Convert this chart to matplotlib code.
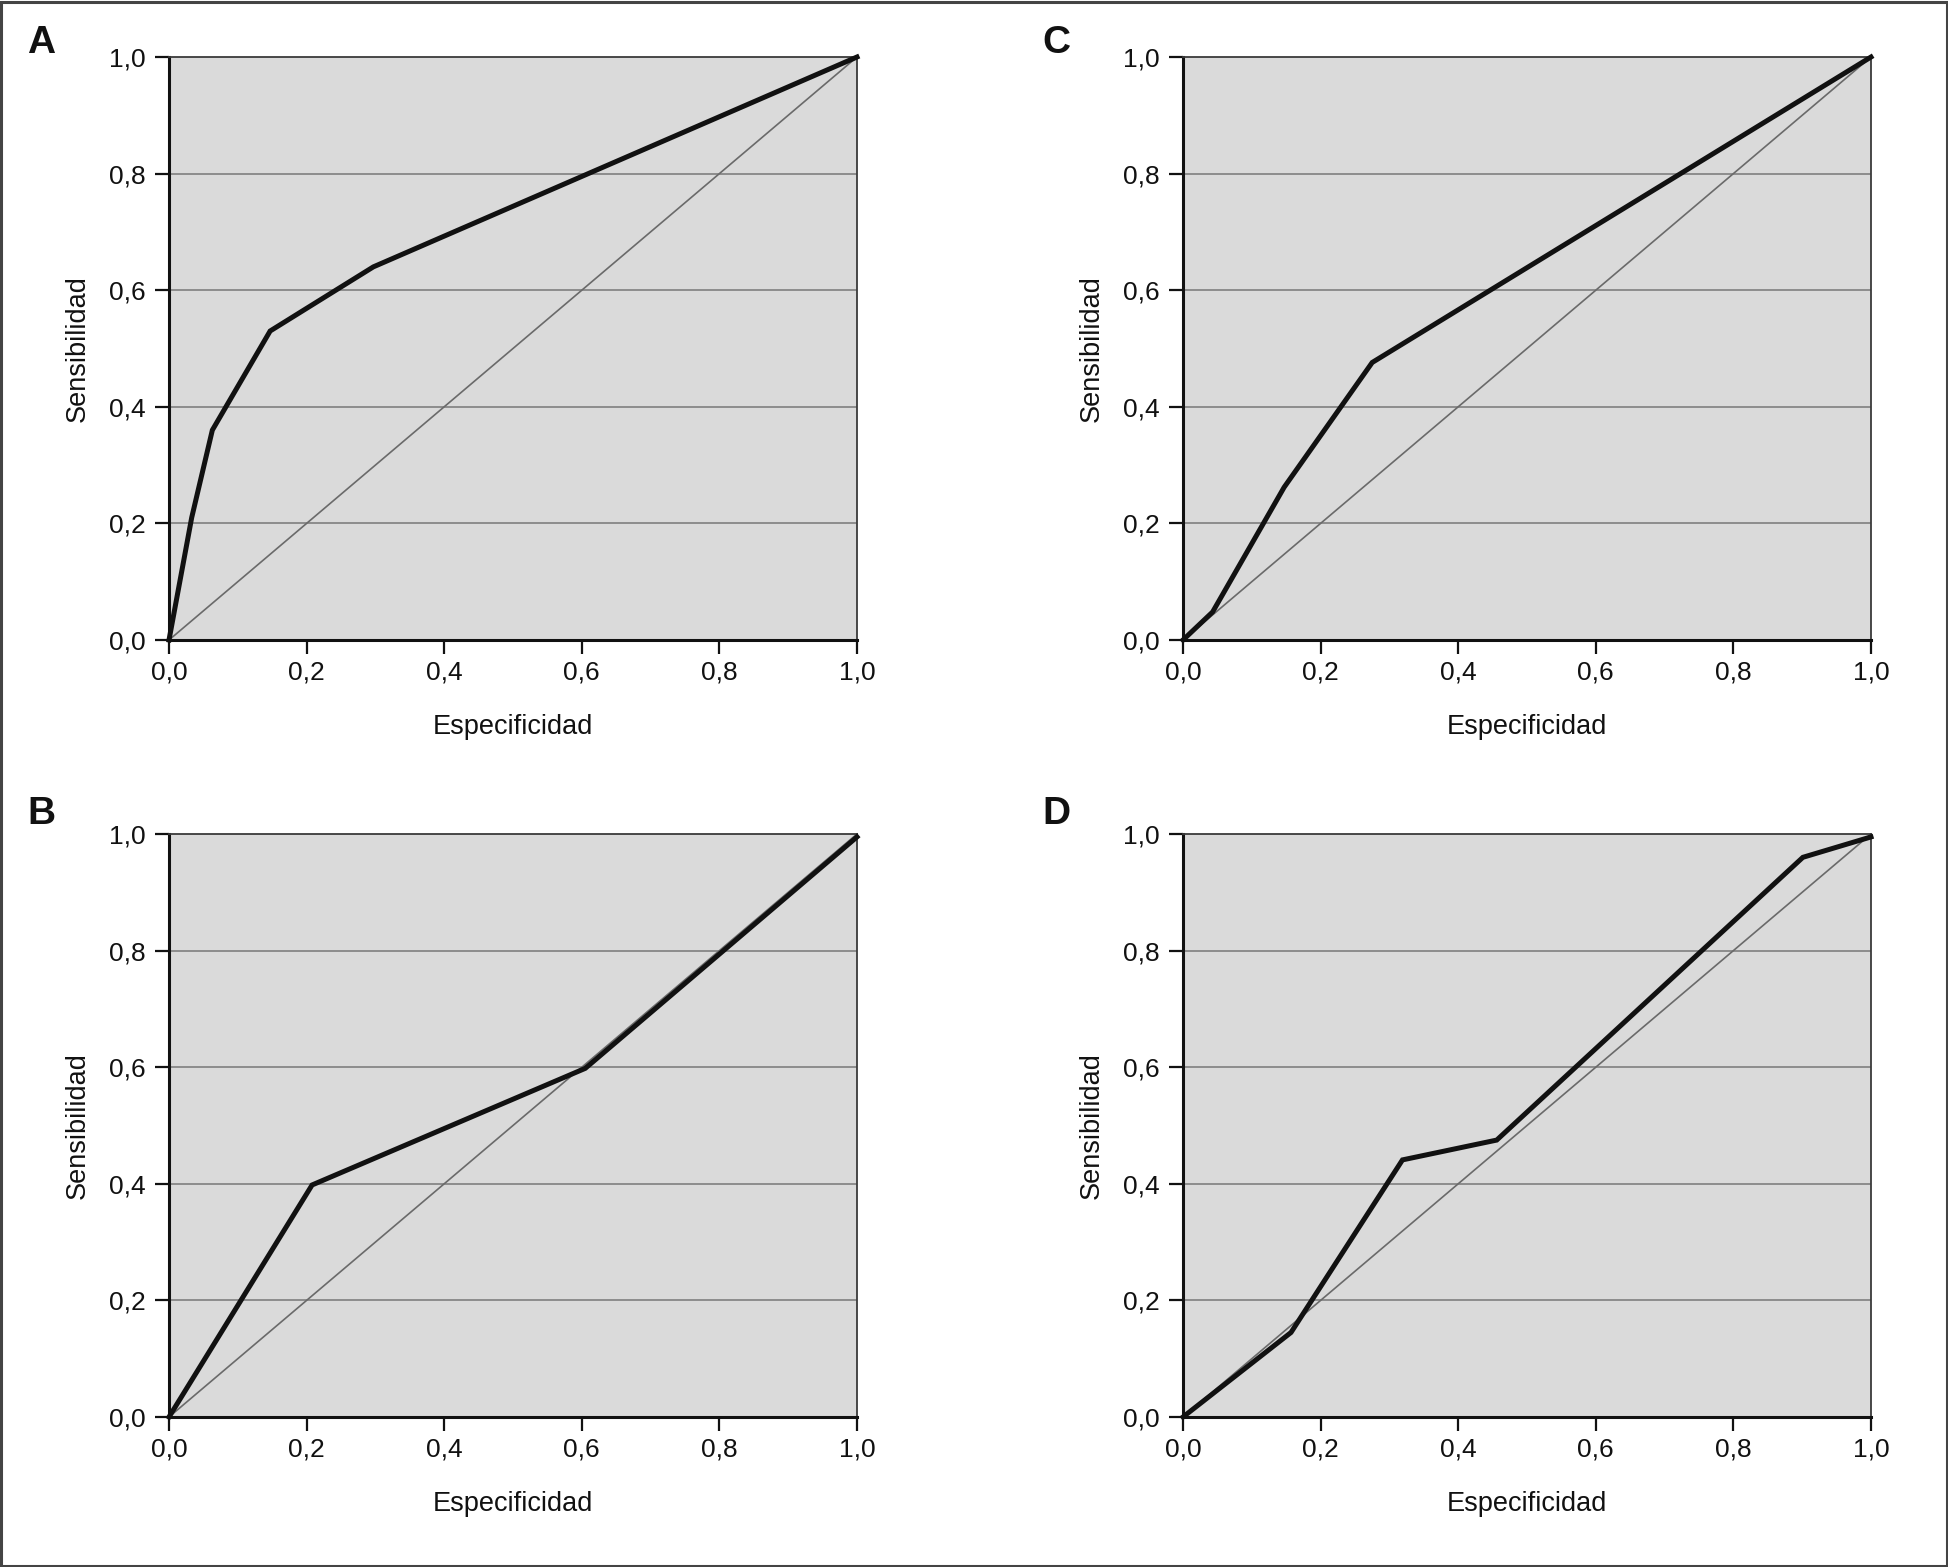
#!/usr/bin/env python3
from __future__ import annotations

import matplotlib

matplotlib.use("Agg")
import matplotlib.pyplot as plt
from matplotlib.patches import Rectangle

# ROC curves (x = 1 - especificidad, y = sensibilidad)
panel_letters = ["A", "B", "C", "D"]

a_fpr = [0.0, 0.033, 0.063, 0.147, 0.297, 1.0]
a_tpr = [0.0, 0.21, 0.36, 0.53, 0.64, 1.0]

b_fpr = [0.0, 0.208, 0.605, 1.0]
b_tpr = [0.0, 0.398, 0.598, 0.995]

c_fpr = [0.0, 0.043, 0.147, 0.275, 1.0]
c_tpr = [0.0, 0.048, 0.262, 0.476, 1.0]

d_fpr = [0.0, 0.157, 0.319, 0.456, 0.901, 1.0]
d_tpr = [0.0, 0.145, 0.441, 0.475, 0.960, 0.995]

tick_values = [0.0, 0.2, 0.4, 0.6, 0.8, 1.0]
tick_labels = ["0,0", "0,2", "0,4", "0,6", "0,8", "1,0"]
grid_values = [0.2, 0.4, 0.6, 0.8]

x_label = "Especificidad"
y_label = "Sensibilidad"


def _draw_panel(ax, fpr: list[float], tpr: list[float]) -> None:
    ax.set_facecolor("#dadada")
    ax.set_xlim(0, 1)
    ax.set_ylim(0, 1)

    for g in grid_values:
        ax.axhline(g, color="#8c8c8c", lw=1.4, zorder=1)

    # chance diagonal
    ax.plot([0, 1], [0, 1], color="#6a6a6a", lw=1.2, zorder=2, clip_on=False)
    ax.plot(fpr, tpr, color="#111111", lw=3.6, zorder=3, clip_on=False,
            solid_joinstyle="miter")

    ax.set_xticks(tick_values)
    ax.set_xticklabels(tick_labels)
    ax.set_yticks(tick_values)
    ax.set_yticklabels(tick_labels)
    ax.tick_params(axis="both", direction="out", length=10, width=1.6,
                   labelsize=19, colors="#111111")
    ax.tick_params(axis="x", pad=5)
    ax.tick_params(axis="y", pad=7)

    for side in ("left", "bottom"):
        ax.spines[side].set_color("#111111")
        ax.spines[side].set_linewidth(2.2)
    for side in ("top", "right"):
        ax.spines[side].set_color("#3a3a3a")
        ax.spines[side].set_linewidth(1.3)

    ax.set_xlabel(x_label, fontsize=19.5, labelpad=21, color="#111111")
    ax.set_ylabel(y_label, fontsize=19.5, labelpad=13, color="#111111")


def main() -> int:
    plt.rcParams["font.family"] = ["Liberation Sans", "DejaVu Sans"]

    W, H = 1949, 1567
    fig = plt.figure(figsize=(W / 100, H / 100), dpi=100)
    fig.patch.set_facecolor("white")

    ax_w = 688 / W
    ax_h = 583 / H
    lefts = {"A": 169 / W, "B": 169 / W, "C": 1183 / W, "D": 1183 / W}
    bottoms = {"A": 1 - 640 / H, "C": 1 - 640 / H,
               "B": 1 - 1417 / H, "D": 1 - 1417 / H}
    data = {"A": (a_fpr, a_tpr), "B": (b_fpr, b_tpr),
            "C": (c_fpr, c_tpr), "D": (d_fpr, d_tpr)}
    letter_pos = {"A": (27, 25), "C": (1042, 25), "B": (27, 796), "D": (1042, 796)}

    for letter in panel_letters:
        ax = fig.add_axes([lefts[letter], bottoms[letter], ax_w, ax_h])
        fpr, tpr = data[letter]
        _draw_panel(ax, fpr, tpr)
        lx, ly = letter_pos[letter]
        fig.text(lx / W, 1 - ly / H, letter, fontsize=28, fontweight="bold",
                 ha="left", va="top", color="#111111")

    # outer frame round the whole figure
    fig.patches.append(Rectangle((1.5 / W, 1.5 / H), 1 - 3 / W, 1 - 3 / H,
                                 transform=fig.transFigure, fill=False,
                                 edgecolor="#444444", lw=2.2))

    fig.savefig("out.png", dpi=100)
    plt.close(fig)
    return 0


if __name__ == "__main__":
    raise SystemExit(main())
